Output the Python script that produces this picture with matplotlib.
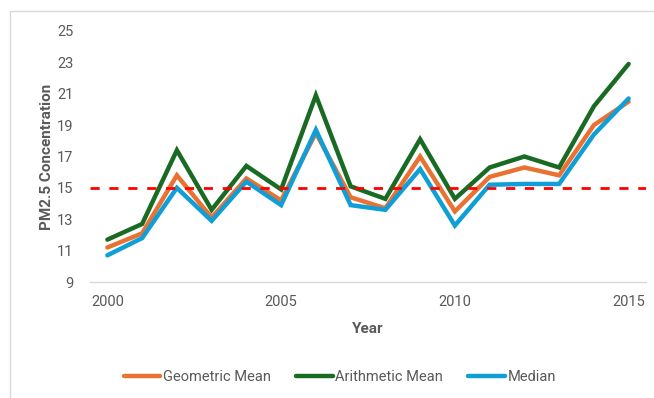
import matplotlib
matplotlib.use("Agg")
import matplotlib.pyplot as plt
from matplotlib.patches import Rectangle

years = list(range(2000, 2016))
geometric_mean = [11.2, 12.1, 15.8, 13.1, 15.6, 14.2, 18.5, 14.4, 13.7, 17.0, 13.5, 15.7, 16.3, 15.8, 19.0, 20.5]
arithmetic_mean = [11.7, 12.7, 17.4, 13.6, 16.4, 14.9, 20.9, 15.1, 14.3, 18.1, 14.3, 16.3, 17.0, 16.3, 20.2, 22.9]
median = [10.7, 11.8, 15.0, 12.9, 15.4, 13.9, 18.7, 13.9, 13.6, 16.2, 12.6, 15.2, 15.25, 15.25, 18.4, 20.7]
threshold = 15
x_ticks = [2000, 2005, 2010, 2015]
y_ticks = [9, 11, 13, 15, 17, 19, 21, 23, 25]

plt.rcParams['font.family'] = ['Roboto', 'DejaVu Sans']

fig = plt.figure(figsize=(6.54, 3.98), dpi=100)
W, H = 654, 398
ax = fig.add_axes([90 / W, 1 - 282 / H, (646 - 90) / W, (282 - 31) / H])

gray = '#595959'
ax.plot(years, geometric_mean, color='#E97132', lw=3.2, label='Geometric Mean', solid_capstyle='round', solid_joinstyle='miter', zorder=3)
ax.plot(years, arithmetic_mean, color='#196B24', lw=3.2, label='Arithmetic Mean', solid_capstyle='round', solid_joinstyle='miter', zorder=3)
ax.plot(years, median, color='#0F9ED5', lw=3.2, label='Median', solid_capstyle='round', solid_joinstyle='miter', zorder=3)
ax.axhline(threshold, color='#FF0000', lw=2, ls=(0, (3.3, 3.5)), zorder=4)

ax.set_xlim(1999.5, 2015.5)
ax.set_ylim(9, 25)
ax.set_xticks(x_ticks)
ax.set_yticks(y_ticks)
ax.tick_params(axis='both', length=0, colors=gray, labelsize=10.5)
ax.tick_params(axis='x', pad=9)
ax.tick_params(axis='y', pad=12)
for s in ['top', 'right', 'left']:
    ax.spines[s].set_visible(False)
ax.spines['bottom'].set_color('#D9D9D9')
ax.spines['bottom'].set_linewidth(1)

ax.set_xlabel('Year', fontsize=11, fontweight='bold', color=gray, labelpad=10)
ax.set_ylabel('PM2.5 Concentration', fontsize=11, fontweight='bold', color=gray, labelpad=2)

leg = fig.legend(loc='center', bbox_to_anchor=(340 / W, 1 - 377 / H), ncol=3, frameon=False,
                 fontsize=10.5, handlelength=2.5, handletextpad=0.2, columnspacing=1.7)
for t in leg.get_texts():
    t.set_color(gray)

fig.patches.append(Rectangle((10 / W, -0.1), 1.2, 1 - 11 / H + 0.1, transform=fig.transFigure,
                             fill=False, edgecolor='#D9D9D9', lw=1))

fig.savefig('out.png', dpi=100)
